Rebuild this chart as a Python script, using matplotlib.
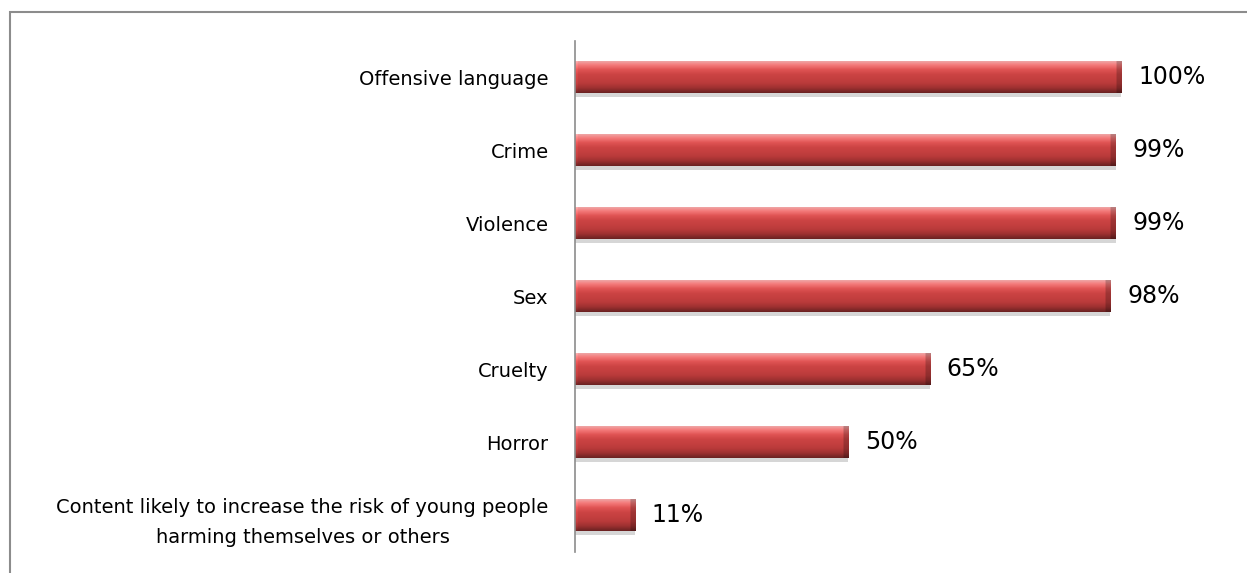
import numpy as np
import matplotlib.pyplot as plt
from matplotlib.colors import LinearSegmentedColormap
from matplotlib.patches import Rectangle

kategorije = ["Offensive language", "Crime", "Violence", "Sex", "Cruelty", "Horror",
              "Content likely to increase the risk of young people\nharming themselves or others"]
procenti = [100, 99, 99, 98, 65, 50, 11]

W, H = 1247, 573
fig = plt.figure(figsize=(W / 100, H / 100), dpi=100)
ax = fig.add_axes([575 / W, 21.5 / H, 672 / W, 511 / H])

# okvir oko grafika
fig.add_artist(Rectangle((10 / W, -0.1), 1.2, 1 - 12 / H + 0.1, transform=fig.transFigure,
                         fill=False, edgecolor='#8c8c8c', lw=1.5))

# vertikalni gradijent za "3D" izgled stubica
boje = ['#eeb0b0', '#f47a7a', '#e05454', '#cc4444', '#c43f3f', '#b83a3a', '#9c3030', '#6a2222']
cmap = LinearSegmentedColormap.from_list('crvena', boje)
grad = cmap(np.linspace(0, 1, 64))[:, :3]

y = np.arange(len(kategorije))
visina = 0.44
xmax = 123

# senka
ax.barh(y + 0.05, procenti, height=visina, color='#d6d6d6', zorder=1)
stubici = ax.barh(y, procenti, height=visina, color='none', zorder=2)

for i, (p, v) in enumerate(zip(stubici.patches, procenti)):
    n = max(int(v * 10), 10)
    slika = np.repeat(grad[:, None, :], n, axis=1).copy()
    kraj = max(int(n * 1.0 / v), 1)
    slika[:, -kraj:, :] *= 0.78  # tamniji desni kraj
    slika[:, :max(kraj // 2, 1), :] = np.minimum(slika[:, :max(kraj // 2, 1), :] * 1.08, 1)
    im = ax.imshow(slika, extent=[0, v, i + visina / 2, i - visina / 2], aspect='auto',
                   interpolation='bilinear', zorder=2)
    im.set_clip_path(p)
    ax.annotate(f"{v}%", (v, i), xytext=(12, 0), textcoords='offset points',
                va='center', ha='left', fontsize=17, color='black')

ax.set_xlim(0, xmax)
ax.set_ylim(len(kategorije) - 0.5, -0.5)
ax.set_yticks(y)
ax.set_yticklabels(kategorije, fontsize=14, multialignment='center', linespacing=1.75)
ax.tick_params(axis='y', length=0, pad=19)
ax.set_xticks([])
for s in ['top', 'right', 'bottom']:
    ax.spines[s].set_visible(False)
ax.spines['left'].set_color('#8c8c8c')
ax.spines['left'].set_linewidth(1.2)
ax.patch.set_alpha(0)

fig.savefig('out.png', dpi=100)
